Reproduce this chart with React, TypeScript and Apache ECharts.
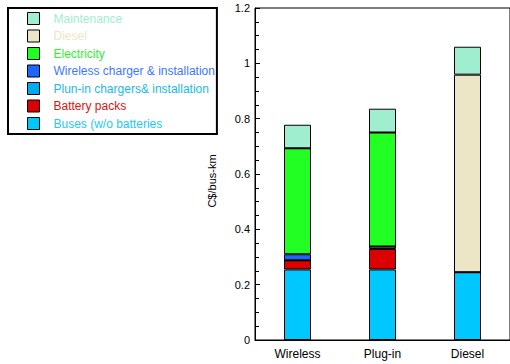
import React, { useEffect, useRef } from "react";
import * as echarts from "echarts";

const categories = ["Wireless", "Plug-in", "Diesel"];
const buses = [0.255, 0.255, 0.245];
const batteryPacks = [0.033, 0.074, 0];
const plugInChargers = [0, 0.009, 0];
const wirelessChargers = [0.022, 0, 0];
const electricity = [0.383, 0.412, 0];
const diesel = [0, 0, 0.714];
const maintenance = [0.085, 0.086, 0.101];
const yTicks = [0, 0.2, 0.4, 0.6, 0.8, 1, 1.2];

const seriesDefs = [
  { name: "Buses (w/o batteries", data: buses, color: "#00C8FF", text: "#22C8FF" },
  { name: "Battery packs", data: batteryPacks, color: "#DD0000", text: "#DD1111" },
  { name: "Plun-in chargers& installation", data: plugInChargers, color: "#00AAEE", text: "#1AB8EE" },
  { name: "Wireless charger & installation", data: wirelessChargers, color: "#1E64FF", text: "#3C78FF" },
  { name: "Electricity", data: electricity, color: "#22FF22", text: "#33EE33" },
  { name: "Diesel", data: diesel, color: "#EDE6C6", text: "#EDE6C6" },
  { name: "Maintenance", data: maintenance, color: "#A0EED0", text: "#A0EED0" },
];

export default function App() {
  const ref = useRef<HTMLDivElement>(null);
  useEffect(() => {
    if (!ref.current) return;
    const chart = echarts.init(ref.current, undefined, { renderer: "svg" });
    chart.setOption({
      animation: false,
      textStyle: { fontFamily: "Liberation Sans, Arial, sans-serif" },
      legend: {
        orient: "vertical",
        left: 8,
        top: 8,
        padding: [4, 2, 4, 19],
        borderColor: "#000",
        borderWidth: 2,
        itemWidth: 12,
        itemHeight: 12,
        itemGap: 4.5,
        icon: "rect",
        selectedMode: false,
        itemStyle: { borderColor: "#000", borderWidth: 1 },
        textStyle: { fontSize: 12, lineHeight: 12, padding: [0, 0, 0, 9] },
        data: [...seriesDefs].reverse().map((s) => ({
          name: s.name,
          textStyle: { color: s.text },
        })),
      },
      grid: {
        left: 255,
        top: 8,
        bottom: 24,
        right: -4,
        show: true,
        borderColor: "#000",
        borderWidth: 1,
        backgroundColor: "transparent",
      },
      xAxis: {
        type: "category",
        data: categories,
        axisLine: { lineStyle: { color: "#000" } },
        axisTick: { show: false },
        axisLabel: { color: "#000", fontSize: 12, margin: 8 },
      },
      yAxis: {
        type: "value",
        min: yTicks[0],
        max: yTicks[yTicks.length - 1],
        interval: 0.2,
        name: "C$/bus-km",
        nameLocation: "middle",
        nameGap: 38,
        nameTextStyle: { color: "#000", fontSize: 11, padding: [0, 0, 0, -14] },
        axisLine: { show: true, lineStyle: { color: "#000" } },
        axisTick: { show: true, inside: true, length: 5, lineStyle: { color: "#000" } },
        minorTick: { show: true, splitNumber: 4, length: 4, lineStyle: { color: "#000" } },
        splitLine: { show: false },
        axisLabel: {
          color: "#000",
          fontSize: 11,
          margin: 5,
          formatter: (v: number) => String(Math.round(v * 10) / 10),
        },
      },
      series: seriesDefs.map((s) => ({
        name: s.name,
        type: "bar",
        stack: "total",
        barWidth: 27,
        data: s.data,
        itemStyle: { color: s.color, borderColor: "#000", borderWidth: 1 },
      })),
    });
    return () => chart.dispose();
  }, []);
  return <div ref={ref} style={{ width: 510, height: 364, position: "absolute", left: 0, top: 0 }} />;
}
